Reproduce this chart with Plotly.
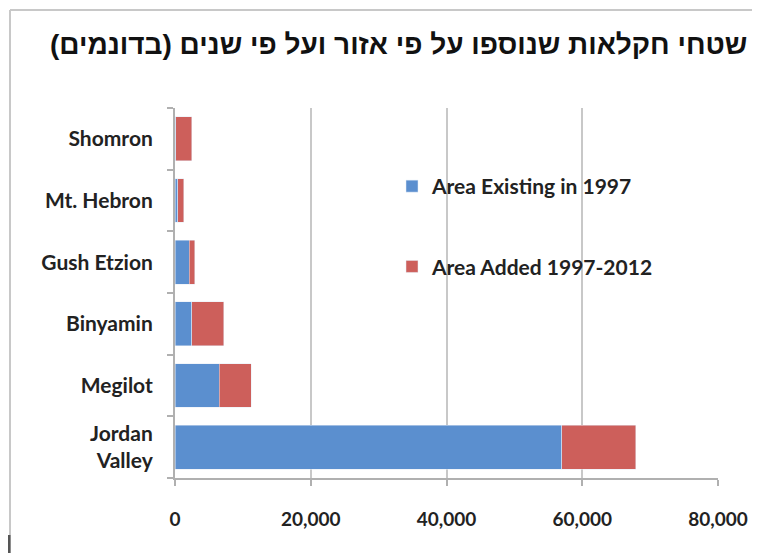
import plotly.graph_objects as go

categories = ["Jordan<br>Valley", "Megilot", "Binyamin", "Gush Etzion", "Mt. Hebron", "Shomron"]
existing_1997 = [57000, 6500, 2500, 2100, 400, 100]
added_1997_2012 = [10900, 4700, 4700, 800, 900, 2350]
x_ticks = [0, 20000, 40000, 60000, 80000]
x_tick_labels = ["0", "20,000", "40,000", "60,000", "80,000"]
title_text = "שטחי חקלאות שנוספו על פי אזור ועל פי שנים (בדונמים)"

OFF = 8  # page body margin
W, H = 760 - OFF, 553 - OFF
# reference pixel geometry of the plot area
REF_L, REF_R, REF_T, REF_B = 175, 718, 108, 478
L, T = REF_L - OFF, REF_T - OFF
R, B = W - (REF_R - OFF), H - (REF_B - OFF)
pw, ph = REF_R - REF_L, REF_B - REF_T

def px(x):
    return (x - REF_L) / pw

def py(y):
    return (REF_B - y) / ph

fig = go.Figure()
fig.add_trace(go.Bar(
    y=categories, x=existing_1997, orientation="h",
    name="Area Existing in 1997", marker_color="#5B8FCF",
    legendgroup="a",
))
fig.add_trace(go.Bar(
    y=categories, x=added_1997_2012, orientation="h",
    name="Area Added 1997-2012", marker_color="#CD5F5B",
    legendgroup="b",
))

font_main = "Lato, 'Open Sans', Arial, sans-serif"

fig.update_layout(
    width=W, height=H,
    margin=dict(l=L, r=R, t=T, b=B, autoexpand=False),
    paper_bgcolor="white", plot_bgcolor="white",
    barmode="stack", bargap=0.29,
    legend=dict(
        x=px(392), y=py(166), xanchor="left", yanchor="top",
        bgcolor="rgba(0,0,0,0)", traceorder="grouped", tracegroupgap=50,
        font=dict(family=font_main, size=21, color="#222222", weight="bold"),
        itemwidth=30,
    ),
    xaxis=dict(
        range=[0, 80000], tickvals=x_ticks, ticktext=x_tick_labels,
        showgrid=True, gridcolor="#C8C8C8", gridwidth=2,
        showline=True, linecolor="#B0B0B0", linewidth=2,
        ticks="outside", ticklen=6, tickcolor="#B0B0B0", tickwidth=1.5,
        ticklabelstandoff=17,
        tickfont=dict(family=font_main, size=19, color="#222222", weight="bold"),
        zeroline=False, fixedrange=True,
    ),
    yaxis=dict(
        categoryorder="array", categoryarray=categories,
        showline=True, linecolor="#B0B0B0", linewidth=2,
        ticks="outside", ticklen=6, tickcolor="#B0B0B0", tickwidth=1.5,
        tickson="boundaries", showgrid=False,
        tickfont=dict(family=font_main, size=21, color="#222222", weight="bold"),
        ticklabelstandoff=16,
    ),
    annotations=[
        dict(
            text="<b>" + title_text + "</b>", showarrow=False,
            xref="paper", yref="paper", x=px(749), y=py(45),
            xanchor="right", yanchor="middle",
            font=dict(family="Liberation Sans, Arial, sans-serif", size=28, color="#111111"),
        )
    ],
    shapes=[
        dict(type="rect", xref="paper", yref="paper", layer="between",
             x0=px(405), x1=px(665), y0=py(307), y1=py(140),
             fillcolor="white", line=dict(width=0)),
        dict(type="line", xref="paper", yref="paper",
             x0=px(10), x1=px(770), y0=py(10), y1=py(10),
             line=dict(color="#C8C8C8", width=2)),
        dict(type="line", xref="paper", yref="paper",
             x0=px(10), x1=px(10), y0=py(10), y1=py(560),
             line=dict(color="#C8C8C8", width=2)),
        dict(type="line", xref="paper", yref="paper",
             x0=px(9), x1=px(9), y0=py(535), y1=py(560),
             line=dict(color="#555555", width=3)),
    ],
)

fig.write_html("out.html")
